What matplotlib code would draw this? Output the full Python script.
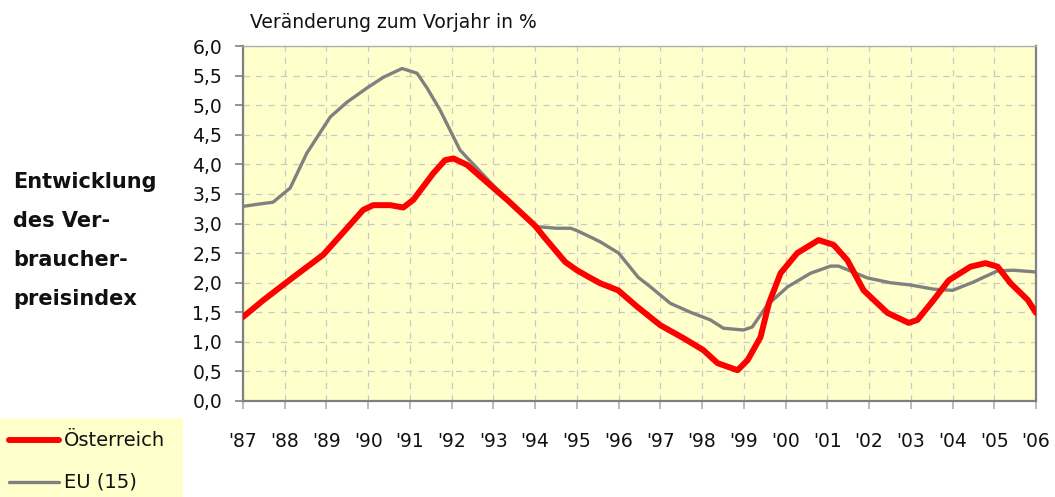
import numpy as np
import matplotlib
matplotlib.use("Agg")
import matplotlib.pyplot as plt
from matplotlib.ticker import FuncFormatter, MultipleLocator
from matplotlib.patches import Rectangle
from matplotlib.lines import Line2D

# Oesterreich (red)
at_year = [1987.0, 1987.48, 1988.2, 1988.92, 1989.49, 1989.88, 1990.12, 1990.53,
           1990.84, 1991.08, 1991.56, 1991.84, 1992.04, 1992.37, 1992.92, 1993.33,
           1994.0, 1994.24, 1994.48, 1994.72, 1995.0, 1995.3, 1995.56, 1995.99,
           1996.45, 1997.0, 1997.56, 1998.03, 1998.37, 1998.85, 1999.09, 1999.4,
           1999.6, 1999.88, 2000.28, 2000.79, 2001.15, 2001.48, 2001.87, 2002.44,
           2002.95, 2003.16, 2003.55, 2003.91, 2004.43, 2004.79, 2005.08, 2005.39,
           2005.8, 2006.0]
at_val = [1.42, 1.70, 2.09, 2.47, 2.92, 3.23, 3.31, 3.31,
          3.27, 3.40, 3.85, 4.07, 4.10, 3.99, 3.65, 3.40,
          2.96, 2.75, 2.55, 2.35, 2.21, 2.09, 1.99, 1.87,
          1.59, 1.28, 1.06, 0.86, 0.64, 0.52, 0.69, 1.08,
          1.65, 2.16, 2.50, 2.72, 2.64, 2.38, 1.87, 1.49,
          1.32, 1.37, 1.71, 2.04, 2.27, 2.33, 2.27, 1.99,
          1.71, 1.49]

# EU (15) (grey)
eu_year = [1987.0, 1987.4, 1987.72, 1988.13, 1988.53, 1989.09, 1989.49, 1989.97,
           1990.36, 1990.81, 1991.17, 1991.41, 1991.72, 1992.2, 1992.92, 1993.33,
           1994.0, 1994.5, 1994.85, 1995.0, 1995.3, 1995.56, 1996.0, 1996.47,
           1996.76, 1997.24, 1997.72, 1998.2, 1998.51, 1998.99, 1999.2, 1999.56,
           2000.05, 2000.6, 2001.08, 2001.27, 2001.96, 2002.5, 2003.0, 2003.55,
           2004.0, 2004.5, 2005.08, 2005.47, 2006.0]
eu_val = [3.29, 3.33, 3.36, 3.60, 4.19, 4.80, 5.05, 5.29,
          5.47, 5.62, 5.54, 5.29, 4.92, 4.24, 3.70, 3.40,
          2.95, 2.92, 2.92, 2.88, 2.78, 2.69, 2.50, 2.09,
          1.93, 1.65, 1.50, 1.37, 1.23, 1.20, 1.25, 1.62,
          1.93, 2.16, 2.28, 2.28, 2.08, 2.00, 1.96, 1.89,
          1.87, 2.01, 2.20, 2.21, 2.18]

years = list(range(1987, 2007))
year_labels = ["'%02d" % (y % 100) for y in years]

red = '#FF0000'
grey = '#808080'

fig = plt.figure(figsize=(10.55, 4.97), dpi=100)
ax = fig.add_axes([243/1055., 96/497., 793/1055., 355/497.])
ax.set_facecolor('#FFFFCC')

ax.plot(eu_year, eu_val, color=grey, lw=2.4, solid_capstyle='round', zorder=3)
ax.plot(at_year, at_val, color=red, lw=4.3, solid_capstyle='round', zorder=4)

ax.set_xlim(1987, 2006)
ax.set_ylim(0, 6)
ax.set_xticks(years)
ax.set_xticklabels(year_labels)
ax.yaxis.set_major_locator(MultipleLocator(0.5))
ax.yaxis.set_major_formatter(FuncFormatter(lambda v, p: ('%.1f' % v).replace('.', ',')))

ax.grid(True, color='#C8C8C8', linestyle=(0, (5, 5)), lw=0.9, zorder=1)
ax.set_axisbelow(True)
for s in ax.spines.values():
    s.set_color(grey)
    s.set_linewidth(1.6)
ax.spines['top'].set_color('#B0B0B0')
ax.spines['top'].set_linewidth(1.0)

ax.tick_params(axis='y', direction='out', length=6, width=1.2, color=grey,
               pad=9, labelsize=13.5, labelcolor='#111111')
ax.tick_params(axis='x', direction='out', length=6, width=1.2, color='#B0B0B0',
               pad=16, labelsize=13.5, labelcolor='#111111')

fig.text(250/1055., 1 - 22/497., 'Veränderung zum Vorjahr in %', fontsize=13.5,
         ha='left', va='center', color='#111111')

for i, t in enumerate(['Entwicklung', 'des Ver-', 'braucher-', 'preisindex']):
    fig.text(13/1055., 1 - (182 + 39*i)/497., t, fontsize=15, fontweight='bold',
             ha='left', va='center', color='#111111')

# legend box at the bottom left
fig.patches.append(Rectangle((0, 0), 183/1055., 79/497., transform=fig.transFigure,
                             facecolor='#FFFFCC', edgecolor='none', zorder=0))
fig.lines.append(Line2D([9/1055., 59/1055.], [1 - 440/497.] * 2, transform=fig.transFigure,
                        color=red, lw=4.3, solid_capstyle='round'))
fig.lines.append(Line2D([9/1055., 59/1055.], [1 - 482/497.] * 2, transform=fig.transFigure,
                        color=grey, lw=2.4, solid_capstyle='round'))
fig.text(64/1055., 1 - 440/497., 'Österreich', fontsize=14, ha='left', va='center',
         color='#111111')
fig.text(64/1055., 1 - 482/497., 'EU (15)', fontsize=14, ha='left', va='center',
         color='#111111')

fig.savefig('out.png', dpi=100)
